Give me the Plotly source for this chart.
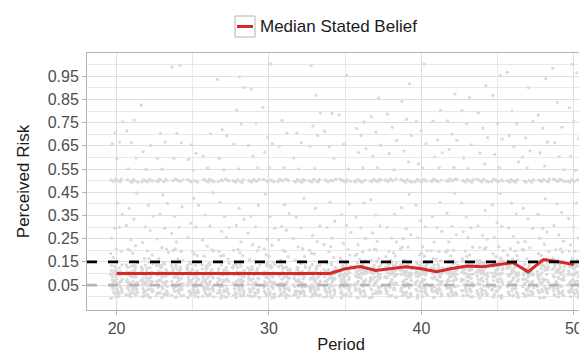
import plotly.graph_objects as go

# ---------------- data ----------------
periods = list(range(20, 51))

median_belief = [0.10, 0.10, 0.10, 0.10, 0.10, 0.10, 0.10, 0.10, 0.10, 0.10,
                 0.10, 0.10, 0.10, 0.10, 0.10, 0.12, 0.13, 0.113, 0.12, 0.129,
                 0.12, 0.107, 0.121, 0.132, 0.129, 0.139, 0.147, 0.107, 0.16, 0.15, 0.138]

threshold_true = 0.15   # black dashed
threshold_low = 0.05    # grey dashed

# stated beliefs (percent) per period
b20 = [0,0,1,1,2,3,3,4,5,5,5,6,7,8,8,9,10,10,10,10,10,11,12,12,13,14,2,4,6,9,0,1,2,3,4,5,6,7,8,9,10,11,12,13,0,2,4,5,7,10,12,18,15,17,20,20,25,30,30,35,40,50,50,50,50,50,50,50,59,66,67,70,75]
b21 = [0,1,1,2,2,3,4,4,5,5,6,7,7,8,9,10,10,10,10,11,11,12,13,14,14,0,3,5,8,10,1,2,3,4,5,6,7,8,9,10,11,12,13,0,1,3,5,6,9,10,11,20,15,18,20,22,25,30,33,38,45,50,50,50,50,50,50,55,60,67,71,76]
b22 = [0,0,1,2,3,3,4,5,5,5,6,6,7,8,9,9,10,10,10,10,12,12,13,13,14,1,2,6,8,11,0,1,2,3,4,5,6,7,8,9,10,11,12,14,2,3,5,7,8,10,13,17,16,18,20,24,28,30,35,40,50,50,50,50,50,50,50,50,62,65,55,83]
b23 = [0,1,1,2,2,3,4,5,5,6,6,7,7,8,9,10,10,10,10,11,12,12,13,14,14,0,3,4,9,10,0,1,2,3,4,5,6,8,9,10,11,12,13,14,1,2,4,6,7,10,12,19,15,17,20,21,25,30,35,40,44,50,50,50,50,50,50,50,55,60,66,70]
b24 = [0,0,1,2,2,3,3,4,5,5,6,7,8,8,9,10,10,10,10,10,11,12,13,14,1,4,5,7,10,12,0,1,2,3,4,5,6,7,9,10,11,12,13,14,0,3,5,6,8,10,11,21,15,16,20,20,23,27,30,35,38,50,50,50,50,50,50,60,67,70,99,100]
b25 = [0,1,1,2,3,3,4,5,5,5,6,7,8,9,9,10,10,10,10,11,12,13,13,14,0,2,6,8,11,12,1,2,3,4,5,6,7,8,9,10,11,12,13,0,1,2,4,7,9,10,12,18,15,18,20,25,30,32,40,42,50,50,50,50,50,50,50,54,59,62,66]
b26 = [0,0,1,2,2,3,4,4,5,6,6,7,8,8,9,10,10,10,10,10,11,12,12,14,1,3,5,9,10,13,0,1,2,3,4,5,6,7,8,9,10,11,13,14,2,3,4,6,8,10,12,20,15,17,20,22,25,30,35,45,50,50,50,50,50,50,50,50,56,60,70]
b27 = [0,1,1,2,3,3,4,5,5,5,6,7,7,8,9,10,10,10,10,11,12,13,14,14,0,2,4,6,8,10,0,1,2,3,4,5,6,7,8,9,10,11,12,13,1,3,5,7,9,10,12,17,16,18,20,25,28,30,35,40,50,50,50,50,50,50,55,59,69,72,94]
b28 = [0,0,1,2,2,3,4,5,5,6,6,7,8,9,9,10,10,10,10,10,11,12,13,14,1,3,5,7,11,12,1,2,3,4,5,6,7,8,9,10,11,12,13,14,0,2,4,5,8,10,11,19,15,17,20,20,24,30,33,38,50,50,50,50,50,50,50,55,66,75,80,90,95]
b29 = [0,1,1,2,3,4,4,5,5,5,6,7,8,8,9,10,10,10,10,11,12,12,13,14,0,2,6,9,10,13,0,1,2,3,4,5,6,7,8,9,10,11,12,13,1,2,3,6,7,10,12,22,15,16,20,23,27,30,35,40,50,50,50,50,50,50,50,56,60,65,75,90]
b30 = [0,0,1,2,2,3,3,4,5,5,6,7,7,8,9,10,10,10,10,10,11,12,13,14,1,4,5,8,10,12,0,1,2,3,4,5,6,7,8,9,10,11,12,14,0,2,4,6,9,10,13,18,15,18,20,22,25,30,34,44,50,50,50,50,50,50,55,62,66,69,81,100]
b31 = [0,1,1,2,3,3,4,5,5,6,6,7,8,9,9,10,10,10,10,11,12,13,13,14,0,2,4,7,10,11,1,2,3,4,5,6,7,8,9,10,11,12,13,0,1,3,5,6,8,10,12,20,15,17,20,25,28,30,36,40,50,50,50,50,50,50,50,56,64,70,76]
b32 = [0,0,1,2,2,3,4,4,5,5,6,7,8,8,9,10,10,10,10,10,11,12,12,14,1,3,6,9,10,13,0,1,2,3,4,5,6,7,8,9,10,11,12,13,2,3,5,7,8,10,11,17,15,16,20,21,25,30,35,42,50,50,50,50,50,50,50,50,55,60,67,70]
b33 = [0,1,1,2,3,3,4,5,5,5,6,7,7,8,9,10,10,10,10,11,12,13,14,14,0,2,5,8,10,12,0,1,2,3,4,5,6,7,8,9,10,11,12,14,1,2,4,6,9,10,12,19,15,18,20,24,27,30,38,50,50,50,50,50,50,50,55,65,70,73,79,87,100]
b34 = [0,0,1,2,2,3,4,5,5,6,6,7,8,9,9,10,10,10,10,10,11,12,13,14,1,3,4,7,11,12,1,2,3,4,5,6,7,8,9,10,11,12,13,14,0,3,5,6,8,10,13,21,15,17,20,22,25,30,33,40,50,50,50,50,50,50,60,64,71,79]
b35 = [0,1,1,2,3,4,4,5,5,5,6,7,8,8,9,10,10,10,10,11,12,12,13,14,0,2,6,9,10,13,0,1,2,3,4,5,6,7,8,9,10,11,12,13,1,2,4,7,9,11,12,18,15,16,20,23,28,30,35,40,50,50,50,50,50,50,50,55,66,79,95]
b36 = [0,0,1,2,3,3,4,5,5,6,7,8,9,10,10,10,10,11,12,12,13,14,15,15,1,3,6,9,11,13,0,1,2,4,5,6,7,8,9,10,11,12,13,14,15,2,3,6,8,10,12,19,15,16,18,20,22,25,30,35,40,50,50,50,50,50,50,50,55,62,64,70,72,75]
b37 = [0,1,1,2,2,3,4,5,5,6,7,8,9,10,10,10,10,11,12,13,14,14,15,0,2,5,8,10,12,1,2,3,4,5,6,7,8,9,10,11,12,13,14,15,0,3,5,7,9,11,13,20,16,17,20,20,24,28,30,35,42,50,50,50,50,50,50,50,50,56,60,65,71,78,85]
b38 = [0,0,1,2,3,4,4,5,5,6,7,8,9,10,10,10,10,11,12,12,13,14,15,15,1,3,6,9,11,14,0,1,2,3,5,6,7,8,9,10,11,12,13,14,15,2,4,5,8,10,12,18,15,17,19,20,23,25,30,36,50,50,50,50,50,50,50,55,61,67,73,79]
b39 = [0,1,1,2,3,3,4,5,6,7,8,9,10,10,10,10,11,12,12,13,14,15,15,0,2,4,8,10,12,13,0,1,2,3,4,6,7,8,9,10,11,12,13,14,15,1,3,5,7,10,12,21,15,16,20,21,25,27,30,38,44,50,50,50,50,50,50,50,58,63,70,76,84,92]
b40 = [0,0,1,2,2,3,4,5,5,6,7,8,9,10,10,10,10,11,12,13,13,14,15,1,3,6,9,11,12,1,2,3,4,5,6,7,8,9,10,11,12,13,14,15,0,2,4,6,8,10,13,19,15,17,18,20,22,25,30,33,40,50,50,50,50,50,50,50,50,55,57,66,72,75,100]
b41 = [0,1,1,2,3,3,4,5,5,6,7,8,9,9,10,10,10,10,11,12,13,14,0,2,5,7,10,12,14,0,1,2,3,4,5,6,7,8,9,10,11,12,13,1,3,4,6,8,10,11,17,15,16,20,20,23,28,30,35,40,50,50,50,50,50,50,50,55,60,62,68,75,80]
b42 = [0,0,1,2,3,4,4,5,6,7,8,9,10,10,10,10,11,12,12,13,14,15,15,1,3,6,9,11,13,0,1,2,3,4,5,7,8,9,10,11,12,13,14,15,2,3,5,7,9,11,12,20,15,17,19,20,24,26,30,36,45,50,50,50,50,50,50,50,56,64,67,70,76,88]
b43 = [0,1,1,2,2,3,4,5,6,7,8,9,10,10,10,11,12,13,13,14,15,15,15,0,2,5,8,11,12,14,1,2,3,4,5,6,7,8,9,10,11,12,13,14,15,0,3,6,8,10,12,18,16,18,20,22,25,28,30,35,40,50,50,50,50,50,50,50,50,55,60,66,74,80,86]
b44 = [0,0,1,2,3,3,4,5,6,7,8,9,10,10,10,11,12,12,13,14,15,15,1,3,6,9,11,13,14,0,1,2,3,4,5,6,7,8,9,10,11,12,14,15,1,2,4,7,9,11,13,21,15,16,20,21,25,27,30,37,50,50,50,50,50,50,50,57,62,69,72,79,91]
b45 = [0,1,1,2,3,4,5,5,6,7,8,9,10,10,10,11,12,13,14,14,15,15,15,0,2,5,8,11,12,14,0,1,2,3,4,5,6,7,9,10,11,12,13,14,15,2,3,5,8,10,12,19,16,17,20,22,25,30,32,40,44,50,50,50,50,50,50,50,55,61,68,75,86,95]
b46 = [0,0,1,2,3,4,5,6,7,8,9,10,10,11,12,13,14,15,15,15,15,1,3,6,9,11,13,14,1,2,3,4,5,6,7,8,9,10,11,12,13,14,15,0,2,4,6,9,11,13,17,16,18,20,20,23,26,30,35,40,50,50,50,50,50,50,50,50,58,65,70,74,80,97]
b47 = [0,1,1,2,2,3,4,5,5,6,7,8,9,10,10,10,10,11,12,13,14,0,2,4,7,10,11,13,0,1,2,3,4,5,6,7,8,9,10,11,12,13,14,1,2,4,6,8,10,12,20,15,17,20,21,24,30,33,38,50,50,50,50,50,50,55,60,63,69,75,90]
b48 = [0,0,1,2,3,4,5,6,7,8,9,10,11,12,13,14,15,15,15,15,15,16,1,3,6,9,12,14,15,0,1,2,3,4,5,6,7,8,10,11,12,13,14,15,2,3,5,7,9,12,14,18,16,18,20,22,25,28,30,35,42,50,50,50,50,50,50,50,56,62,67,72,78,94]
b49 = [0,1,1,2,3,4,5,6,7,8,9,10,10,11,12,13,14,15,15,15,15,0,2,5,8,11,13,14,1,2,3,4,5,6,7,8,9,10,11,12,13,14,15,0,3,4,6,9,11,13,19,16,17,20,20,24,27,30,36,40,50,50,50,50,50,50,50,50,55,61,66,73,84,99]
b50 = [0,0,1,2,3,4,5,5,6,7,8,9,10,10,11,12,13,14,15,15,1,3,6,9,11,13,14,0,1,2,3,4,5,6,7,8,9,10,11,12,13,14,15,1,2,5,7,9,10,12,20,15,16,19,20,23,25,30,34,41,50,50,50,50,50,50,50,55,60,68,76,82,96,100]

beliefs_by_period = [b20, b21, b22, b23, b24, b25, b26, b27, b28, b29, b30,
                     b31, b32, b33, b34, b35, b36, b37, b38, b39, b40,
                     b41, b42, b43, b44, b45, b46, b47, b48, b49, b50]

y_ticks = [0.05, 0.15, 0.25, 0.35, 0.45, 0.55, 0.65, 0.75, 0.85, 0.95]
x_ticks = [20, 30, 40, 50]

# ---------------- jittered scatter (deterministic jitter, like geom_jitter) ----------------
xs, ys = [], []
for p, vals in zip(periods, beliefs_by_period):
    for i, v in enumerate(vals):
        jx = ((i * 0.6180339887 + p * 0.3247) % 1.0 - 0.5) * 0.8
        jy = ((i * 0.7548776662 + p * 0.5698) % 1.0 - 0.5) * 0.014
        xs.append(p + jx)
        ys.append(v / 100.0 + jy)

FONT = "Liberation Sans, Arial, Helvetica, sans-serif"
fig = go.Figure()

fig.add_trace(go.Scatter(
    x=xs, y=ys, mode="markers",
    marker=dict(size=3.3, color="#dadada", line=dict(width=0)),
    showlegend=False, hoverinfo="skip"))

fig.add_hline(y=threshold_low, line=dict(color="#b5b5b5", width=2.8, dash="10px,11px"))
fig.add_hline(y=threshold_true, line=dict(color="black", width=2.8, dash="10px,11px"))

fig.add_trace(go.Scatter(
    x=periods, y=median_belief, mode="lines",
    line=dict(color="#d42a2a", width=3),
    name="Median Stated Belief", showlegend=False))

# manual legend (key box with red line + label)
L, R, T, B = 79.0, 587.0, 45.0, 302.0
def px(x):
    return (x - L) / (R - L)
def py(y):
    return (B - y) / (B - T)

fig.add_shape(type="rect", xref="paper", yref="paper",
              x0=px(227), x1=px(247), y0=py(29), y1=py(8),
              line=dict(color="#b3b3b3", width=1), fillcolor="white")
fig.add_shape(type="line", xref="paper", yref="paper",
              x0=px(229), x1=px(245), y0=py(18.5), y1=py(18.5),
              line=dict(color="#d42a2a", width=3))
fig.add_annotation(text="Median Stated Belief", xref="paper", yref="paper",
                   x=px(250), y=py(18.5), xanchor="left", yanchor="middle",
                   showarrow=False, font=dict(size=17, color="#1a1a1a", family=FONT))

fig.update_layout(
    width=587, height=355, autosize=False,
    margin=dict(l=79, r=0, t=45, b=53, pad=0),
    paper_bgcolor="white", plot_bgcolor="white",
    font=dict(family=FONT),
    showlegend=False,
)

fig.update_xaxes(
    range=[18.06, 51.39], tickvals=x_ticks, ticktext=[str(t) for t in x_ticks],
    showgrid=True, gridcolor="#dedede", gridwidth=1,
    minor=dict(tickvals=[25, 35, 45], showgrid=True, gridcolor="#e8e8e8", gridwidth=0.8, ticks=""),
    ticks="outside", ticklen=4, tickcolor="#b3b3b3", tickwidth=1,
    tickfont=dict(size=16, color="#4d4d4d", family=FONT),
    showline=True, linecolor="#b3b3b3", linewidth=1, mirror=True,
    zeroline=False,
    title=dict(text="Period", font=dict(size=16.5, color="#1a1a1a", family=FONT), standoff=2),
)
fig.update_yaxes(
    range=[-0.0575, 1.05], tickvals=y_ticks, ticktext=[f"{t:.2f}" for t in y_ticks],
    showgrid=True, gridcolor="#dedede", gridwidth=1,
    minor=dict(tickvals=[0.0, 0.1, 0.2, 0.3, 0.4, 0.5, 0.6, 0.7, 0.8, 0.9, 1.0],
               showgrid=True, gridcolor="#e8e8e8", gridwidth=0.8, ticks=""),
    ticks="outside", ticklen=4, tickcolor="#b3b3b3", tickwidth=1,
    tickfont=dict(size=16, color="#4d4d4d", family=FONT),
    showline=True, linecolor="#b3b3b3", linewidth=1, mirror=False,
    zeroline=False,
    title=dict(text="Perceived Risk", font=dict(size=17, color="#1a1a1a", family=FONT), standoff=13),
)

fig.write_html("out.html")
